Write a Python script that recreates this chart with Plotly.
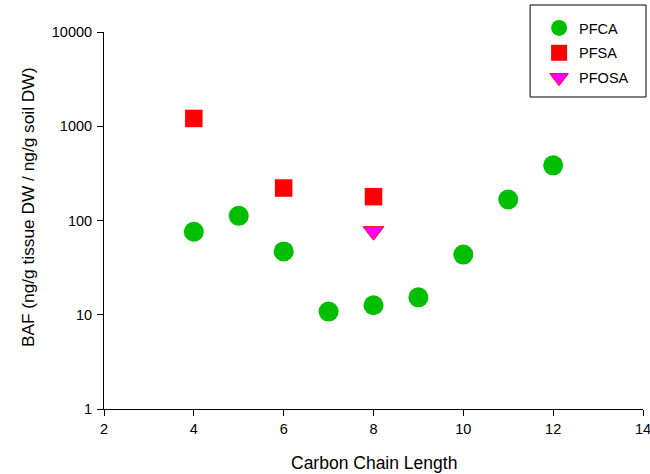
import plotly.graph_objects as go

# Data
pfca_chain = [4, 5, 6, 7, 8, 9, 10, 11, 12]
pfca_baf = [76, 112, 47, 10.8, 12.6, 15.3, 43.5, 167, 385]

pfsa_chain = [4, 6, 8]
pfsa_baf = [1210, 221, 179]

pfosa_chain = [8]
pfosa_baf = [77]

y_tickvals = [1, 10, 100, 1000, 10000]
y_ticktext = ["1", "10", "100", "1000", "10000"]
x_tickvals = [2, 4, 6, 8, 10, 12, 14]

FONT = "Liberation Sans, Arial, sans-serif"

fig = go.Figure()
fig.add_trace(go.Scatter(
    x=pfca_chain, y=pfca_baf, mode="markers", name="PFCA", legendgroup="a",
    marker=dict(symbol="circle", size=20, color="rgb(0,190,0)", line=dict(width=0)),
))
fig.add_trace(go.Scatter(
    x=pfsa_chain, y=pfsa_baf, mode="markers", name="PFSA", legendgroup="b",
    marker=dict(symbol="square", size=17.5, color="rgb(255,0,0)", line=dict(width=0)),
))
fig.add_trace(go.Scatter(
    x=pfosa_chain, y=pfosa_baf, mode="markers", name="PFOSA", legendgroup="c",
    marker=dict(symbol="triangle-down", size=18, color="rgb(255,0,255)",
                line=dict(width=1, color="rgb(255,0,0)")),
))

L, R, T, B = 103.5, 7, 32, 65
W, H = 650, 474
pw = W - L - R
ph = H - T - B

def px_to_paper_x(px):
    return (px - L) / pw

def px_to_paper_y(py):
    return (H - B - py) / ph

fig.update_layout(
    width=W, height=H,
    margin=dict(l=L, r=R, t=T, b=B, pad=0, autoexpand=False),
    paper_bgcolor="white", plot_bgcolor="white",
    font=dict(family=FONT, size=14, color="black"),
    showlegend=True,
    legend=dict(
        x=px_to_paper_x(539), y=px_to_paper_y(12), xanchor="left", yanchor="top",
        bgcolor="rgba(0,0,0,0)", borderwidth=0,
        font=dict(family=FONT, size=14.5, color="black"),
        tracegroupgap=3, itemsizing="trace",
    ),
    xaxis=dict(
        range=[2, 14], tickvals=x_tickvals, showgrid=False, zeroline=False,
        showline=True, linecolor="black", linewidth=1,
        ticks="outside", ticklen=6, tickcolor="black", tickwidth=1,
        ticklabeloverflow="allow", ticklabelstandoff=1, automargin=False,
        tickfont=dict(family=FONT, size=14.5, color="black"),
    ),
    yaxis=dict(
        type="log", range=[0, 4], tickvals=y_tickvals, ticktext=y_ticktext,
        showgrid=False, zeroline=False,
        showline=True, linecolor="black", linewidth=1,
        ticks="outside", ticklen=6, tickcolor="black", tickwidth=1,
        ticklabelstandoff=2, automargin=False,
        tickfont=dict(family=FONT, size=14.5, color="black"),
    ),
    shapes=[dict(
        type="rect", xref="paper", yref="paper",
        x0=px_to_paper_x(530), x1=px_to_paper_x(646),
        y0=px_to_paper_y(97), y1=px_to_paper_y(5),
        line=dict(color="black", width=1), fillcolor="rgba(0,0,0,0)",
    )],
    annotations=[
        dict(text="Carbon Chain Length", xref="paper", yref="paper",
             x=0.5, y=px_to_paper_y(463), xanchor="center", yanchor="middle",
             showarrow=False, font=dict(family=FONT, size=17.5, color="black")),
        dict(text="BAF (ng/g tissue DW / ng/g soil DW)", xref="paper", yref="paper",
             x=px_to_paper_x(27), y=px_to_paper_y(207.5), xanchor="center", yanchor="middle",
             textangle=-90, showarrow=False,
             font=dict(family=FONT, size=17.3, color="black")),
    ],
)

fig.write_html("out.html")
